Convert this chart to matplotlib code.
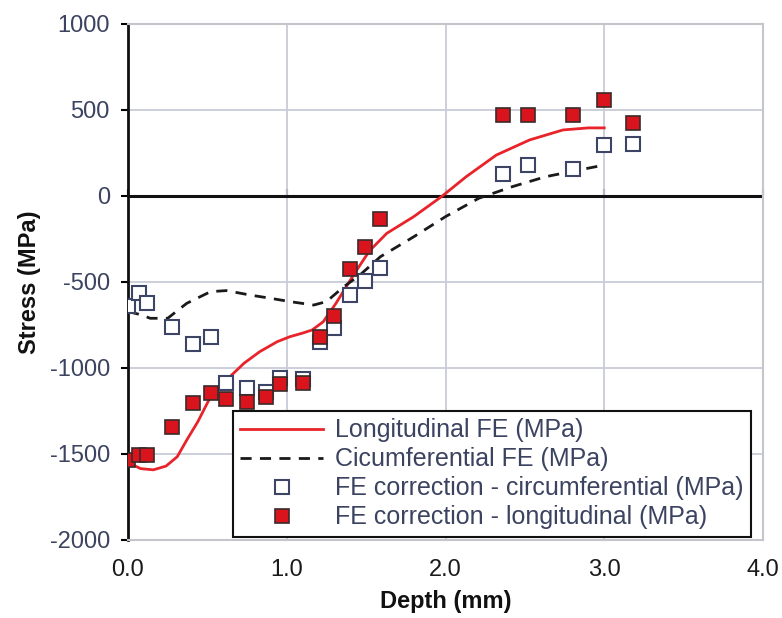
import numpy as np
import matplotlib.pyplot as plt

plt.rcParams['font.family'] = ['Liberation Sans', 'DejaVu Sans']
plt.rcParams['axes.unicode_minus'] = False

# FE model lines
long_fe_x = [0.0, 0.08, 0.16, 0.24, 0.31, 0.37, 0.44, 0.52, 0.62, 0.73, 0.83,
             0.94, 1.02, 1.10, 1.16, 1.23, 1.31, 1.42, 1.52, 1.63, 1.80, 1.98,
             2.13, 2.32, 2.53, 2.74, 2.90, 3.0]
long_fe_y = [-1550, -1585, -1592, -1570, -1516, -1419, -1312, -1167, -1070, -973,
             -905, -847, -818, -797, -779, -731, -624, -460, -320, -217, -120, 0,
             112, 238, 326, 384, 396, 396]

circ_fe_x = [0.0, 0.08, 0.14, 0.25, 0.37, 0.52, 0.62, 0.77, 0.90, 1.02, 1.17,
             1.25, 1.36, 1.46, 1.59, 1.80, 2.00, 2.21, 2.42, 2.63, 2.84, 3.0]
circ_fe_y = [-672, -690, -711, -711, -624, -556, -550, -576, -595, -614, -634,
             -614, -527, -460, -353, -237, -120, -13, 54, 112, 151, 180]

# FE correction points
depth = [0.0, 0.07, 0.12, 0.28, 0.41, 0.52, 0.62, 0.75, 0.87, 0.96, 1.10, 1.21,
         1.30, 1.40, 1.49, 1.59, 2.36, 2.52, 2.80, 3.00, 3.18]
corr_circ = [-640, -564, -622, -760, -860, -818, -1085, -1116, -1140, -1058, -1064,
             -847, -767, -578, -492, -420, 128, 180, 155, 297, 302]
corr_long = [-1535, -1506, -1506, -1343, -1202, -1145, -1180, -1196, -1167, -1093,
             -1085, -820, -698, -424, -298, -135, 471, 471, 471, 558, 426]

x_ticks = [0, 1, 2, 3, 4]
x_labels = ['0.0', '1.0', '2.0', '3.0', '4.0']
y_ticks = [-2000, -1500, -1000, -500, 0, 500, 1000]

text_col = '#3b4360'
grid_col = '#c8ccd8'

fig = plt.figure(figsize=(7.82, 6.18), dpi=100)
ax = fig.add_axes([128/782, 78/618, 635/782, 516/618])

ax.plot(long_fe_x, long_fe_y, '-', color='#e8242a', lw=2.0, zorder=3,
        label='Longitudinal FE (MPa)')
ax.plot(circ_fe_x, circ_fe_y, '--', color='#1a1a1a', lw=2.0, dashes=(4, 3),
        zorder=3, label='Cicumferential FE (MPa)')
ax.plot(depth, corr_circ, 's', ms=9.5, mfc='white', mec='#3c4565', mew=1.5,
        zorder=4, label='FE correction - circumferential (MPa)')
ax.plot(depth, corr_long, 's', ms=9.5, mfc='#d9141c', mec='#3a2a2a', mew=1.2,
        zorder=5, label='FE correction - longitudinal (MPa)')

ax.set_xlim(0, 4)
ax.set_ylim(-2000, 1000)
ax.set_xticks(x_ticks)
ax.set_xticklabels(x_labels)
ax.set_yticks(y_ticks)
ax.grid(True, color=grid_col, lw=1.3, zorder=0)
ax.tick_params(axis='x', length=0, pad=14, labelsize=17, labelcolor='#1a1a1a')
ax.tick_params(axis='y', length=5, width=1.5, direction='out', pad=8,
               labelsize=17, labelcolor=text_col)

for side in ['top', 'right', 'bottom']:
    ax.spines[side].set_color('#c4c6cc')
    ax.spines[side].set_linewidth(1.5)
ax.spines['left'].set_color('#111111')
ax.spines['left'].set_linewidth(2)

# zero line with ticks
ax.axhline(0, color='#111111', lw=2.2, zorder=2.5)
zero_ax = ax.secondary_xaxis(2/3)
zero_ax.set_xticks(x_ticks)
zero_ax.tick_params(axis='x', length=5, width=1.5, direction='out',
                    labelbottom=False, labeltop=False, color='#111111')
for side in ['top', 'bottom']:
    zero_ax.spines[side].set_visible(False)

ax.set_xlabel('Depth (mm)', fontsize=17, fontweight='bold', color='#111111',
              labelpad=6)
ax.set_ylabel('Stress (MPa)', fontsize=17, fontweight='bold', color='#111111',
              labelpad=6)

leg = ax.legend(loc='lower left', bbox_to_anchor=(0.165, 0.006),
                borderaxespad=0, fontsize=18, frameon=True, fancybox=False,
                numpoints=1, handlelength=3.3, handletextpad=0.5,
                labelspacing=0.2, borderpad=0.3, labelcolor=text_col)
leg.get_frame().set_edgecolor('#111111')
leg.get_frame().set_linewidth(1.5)
leg.get_frame().set_alpha(1)
leg.set_zorder(10)

plt.savefig('out.png', dpi=100)
